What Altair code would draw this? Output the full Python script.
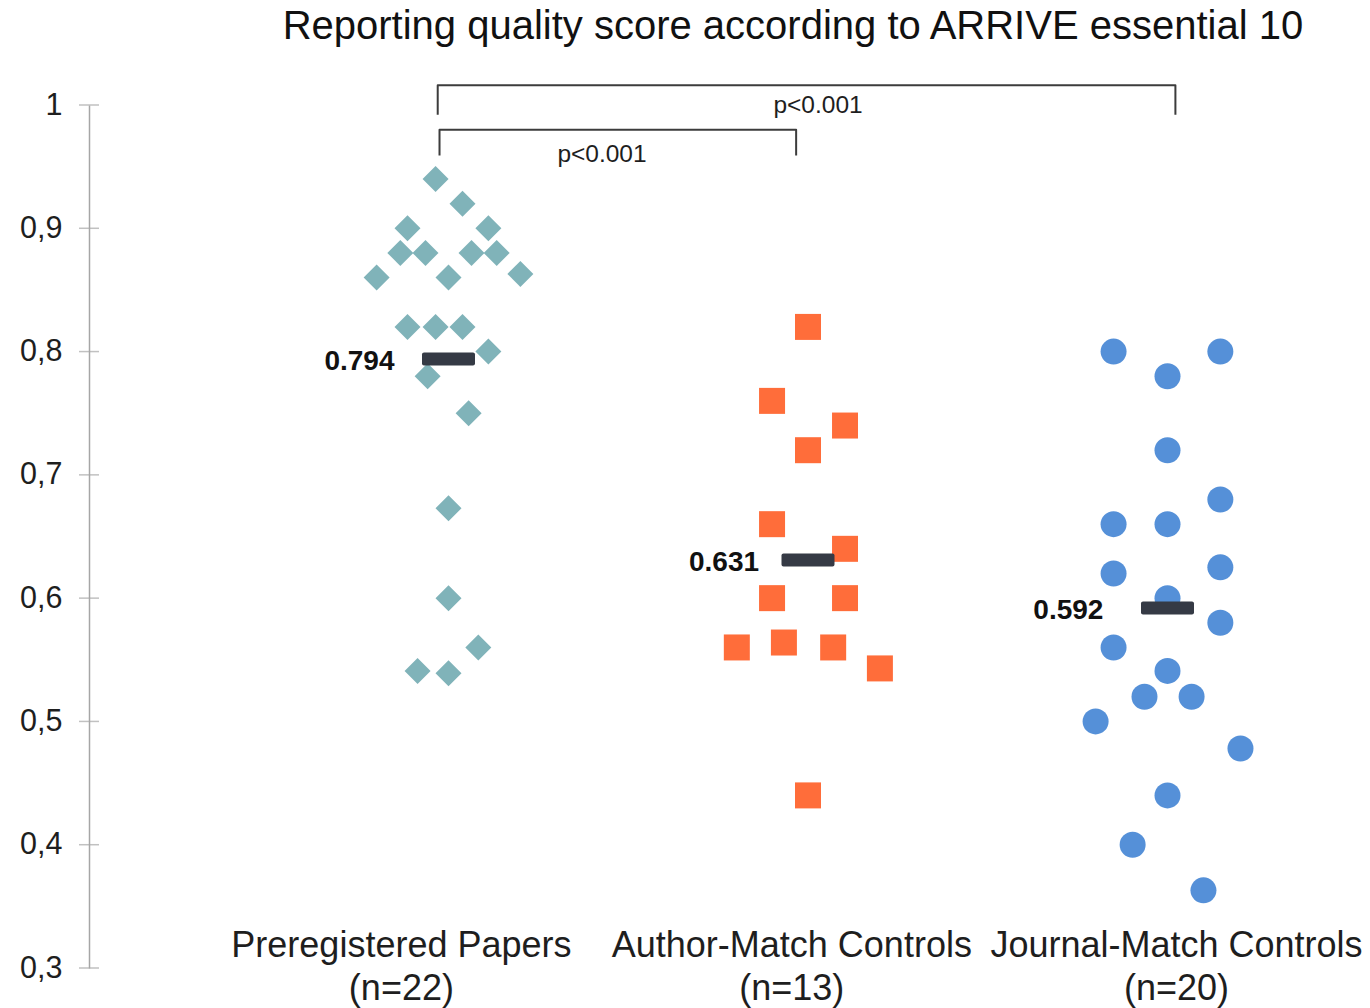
import altair as alt
import pandas as pd

# ---------------- data ----------------
groups = ["Preregistered Papers", "Author-Match Controls", "Journal-Match Controls"]
group_n = [22, 13, 20]
group_pos = [1, 2, 3]
group_mean = [0.794, 0.631, 0.592]
group_shape = ["diamond", "square", "circle"]
group_color = ["#80b3b9", "#ff6d3a", "#5590d8"]

prereg_scores = [0.94, 0.92, 0.90, 0.90, 0.88, 0.88, 0.88, 0.88, 0.86, 0.86, 0.863,
                 0.82, 0.82, 0.82, 0.80, 0.78, 0.75, 0.673, 0.60, 0.56, 0.541, 0.539]
prereg_jitter = [-0.036, 0.039, -0.114, 0.111, -0.134, -0.064, 0.064, 0.134, -0.200, 0.0, 0.200,
                 -0.114, -0.036, 0.039, 0.111, -0.058, 0.056, 0.0, 0.0, 0.083, -0.086, 0.0]

author_scores = [0.82, 0.76, 0.74, 0.72, 0.66, 0.64, 0.60, 0.60, 0.56, 0.564, 0.56, 0.543, 0.44]
author_jitter = [0.0, -0.100, 0.103, 0.0, -0.100, 0.103, -0.100, 0.103, -0.198, -0.067, 0.070, 0.200, 0.0]

journal_scores = [0.80, 0.80, 0.78, 0.72, 0.68, 0.66, 0.66, 0.625, 0.62, 0.60,
                  0.58, 0.56, 0.541, 0.52, 0.52, 0.50, 0.478, 0.44, 0.40, 0.363]
journal_jitter = [-0.150, 0.147, 0.0, 0.0, 0.147, -0.150, 0.0, 0.147, -0.150, 0.0,
                  0.147, -0.150, 0.0, -0.064, 0.067, -0.200, 0.203, 0.0, -0.097, 0.100]

y_ticks = [0.3, 0.4, 0.5, 0.6, 0.7, 0.8, 0.9, 1.0]

title_text = "Reporting quality score according to ARRIVE essential 10"
p_labels = ["p<0.001", "p<0.001"]

# ---------------- tables ----------------
rows = []
for g, pos, sc, jt in zip(groups, group_pos,
                          [prereg_scores, author_scores, journal_scores],
                          [prereg_jitter, author_jitter, journal_jitter]):
    for s, j in zip(sc, jt):
        rows.append({"group": g, "x": pos + j, "score": s})
points = pd.DataFrame(rows)

means = pd.DataFrame({"group": groups, "x": group_pos, "mean": group_mean})
mean_label_nudge = [0.0, 0.014, -0.028]
mean_labels = pd.DataFrame({"x": [p + n for p, n in zip(group_pos, mean_label_nudge)],
                            "mean": group_mean})

label_nudge = [-0.131, -0.045, 0.025]
cats = pd.DataFrame({
    "x": [p + n for p, n in zip(group_pos, label_nudge)],
    "y": [0.309] * 3,
    "label": [f"{g}\n(n={n})" for g, n in zip(groups, group_n)],
})

# brackets: outer (group 1 -> 3) and inner (group 1 -> 2)
br_rows = []
for name, x0, x1, top, end in [("outer", group_pos[0] - 0.030, group_pos[2] + 0.022, 1.016, 0.992),
                               ("inner", group_pos[0] - 0.025, group_pos[1] - 0.033, 0.980, 0.959)]:
    for i, (bx, by) in enumerate([(x0, end), (x0, top), (x1, top), (x1, end)]):
        br_rows.append({"bracket": name, "order": i, "x": bx, "y": by})
brackets = pd.DataFrame(br_rows)

ptext = pd.DataFrame({"x": [2.028, 1.427], "y": [0.9935, 0.9535], "label": p_labels})
title_df = pd.DataFrame({"x": [1.958], "y": [1.0535], "label": [title_text]})
ticks_df = pd.DataFrame({"x": [0.0] * len(y_ticks), "y": y_ticks})

# ---------------- scales ----------------
W, H = 1269, 863
xs = alt.Scale(domain=[0, W / 359.5], nice=False, zero=False)
ys = alt.Scale(domain=[0.3, 1.0], nice=False, zero=False)
FONT = "Liberation Sans"

yaxis = alt.Axis(values=y_ticks,
                 labelExpr="datum.value == 1 ? '1' : replace(format(datum.value, '.1f'), '.', ',')",
                 ticks=False, grid=False, domain=True, domainColor="#a6a6a6", domainWidth=1.5,
                 labelFont=FONT, labelFontSize=30.5, labelColor="#1e1e1e", labelPadding=27,
                 labelFlush=False, labelOverlap=False, title=None)


def X(field="x"):
    return alt.X(f"{field}:Q", scale=xs, axis=None)


def Y(field="y"):
    return alt.Y(f"{field}:Q", scale=ys, axis=yaxis, title=None)


pts = alt.Chart(points).mark_point(filled=True, size=676, opacity=1).encode(
    x=X(),
    y=Y("score"),
    shape=alt.Shape("group:N", scale=alt.Scale(domain=groups, range=group_shape), legend=None),
    color=alt.Color("group:N", scale=alt.Scale(domain=groups, range=group_color), legend=None),
)

tick_marks = alt.Chart(ticks_df).mark_tick(orient="horizontal", size=20, thickness=1.5,
                                           color="#a6a6a6").encode(x=X(), y=Y())

mean_bars = alt.Chart(means).mark_tick(orient="horizontal", size=53, thickness=13,
                                       color="#353a45", cornerRadius=2, opacity=1).encode(
    x=X(), y=Y("mean"))

mean_text = alt.Chart(mean_labels).mark_text(align="right", baseline="middle", dx=-54, dy=3,
                                             font=FONT, fontSize=28, fontWeight="bold",
                                             color="#111111").encode(
    x=X(), y=Y("mean"), text=alt.Text("mean:Q", format=".3f"))

cat_text = alt.Chart(cats).mark_text(align="center", baseline="alphabetic", lineBreak="\n",
                                     lineHeight=43, font=FONT, fontSize=36,
                                     color="#1e1e1e").encode(
    x=X(), y=Y(), text="label:N")

br_lines = alt.Chart(brackets).mark_line(color="#3c3c3c", strokeWidth=2, strokeJoin="round").encode(
    x=X(), y=Y(), detail="bracket:N", order="order:Q")

p_text = alt.Chart(ptext).mark_text(align="center", baseline="alphabetic", font=FONT,
                                    fontSize=24.5, color="#1e1e1e").encode(
    x=X(), y=Y(), text="label:N")

title_mark = alt.Chart(title_df).mark_text(align="center", baseline="alphabetic", font=FONT,
                                           fontSize=40, color="#111111").encode(
    x=X(), y=Y(), text="label:N")

chart = alt.layer(tick_marks, pts, mean_bars, mean_text, cat_text, br_lines, p_text, title_mark).properties(
    width=W, height=H,
    background="white",
    autosize=alt.AutoSizeParams(type="none"),
    padding={"left": 81, "top": 97, "right": 4, "bottom": 40},
).configure_view(stroke="transparent", strokeWidth=0)

chart.save("out.html", embed_options={"renderer": "svg", "actions": False})
